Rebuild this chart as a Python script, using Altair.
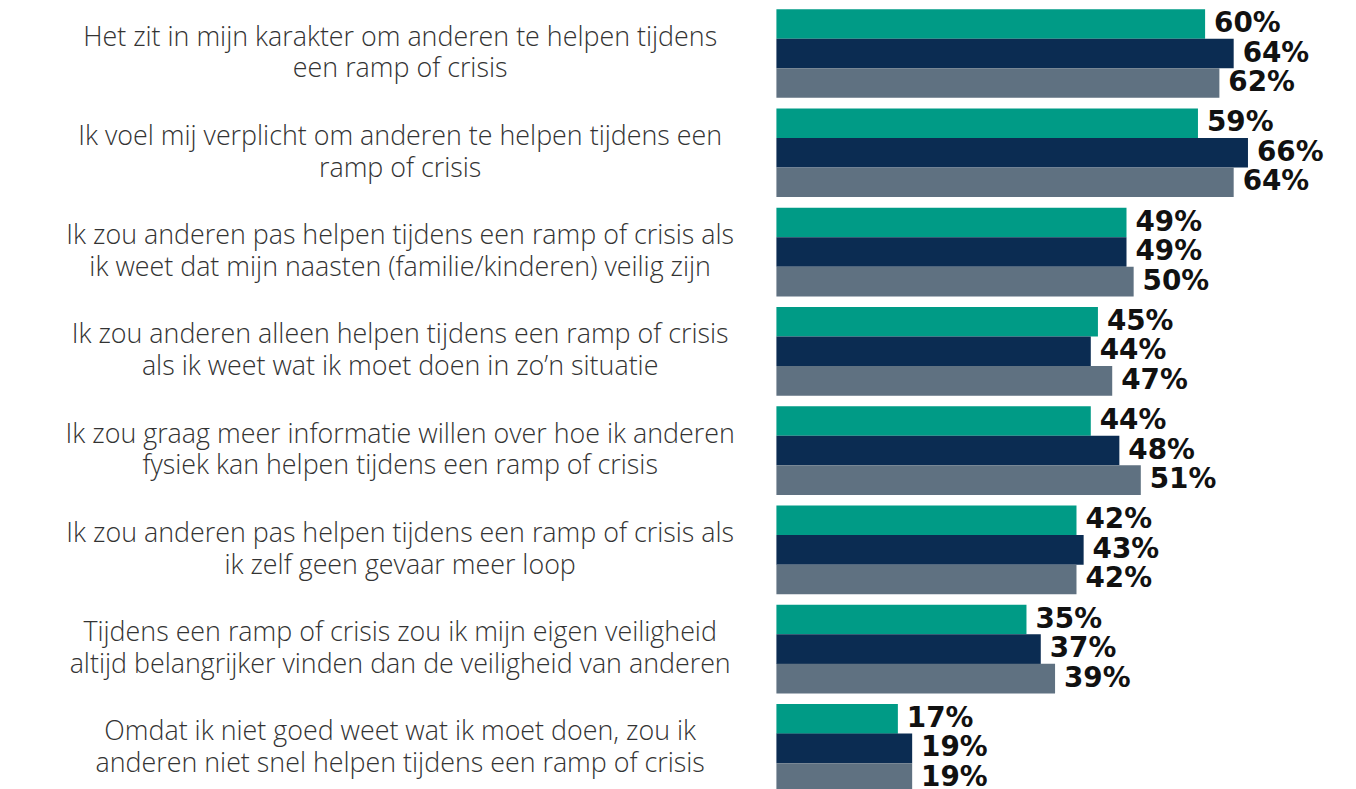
import altair as alt
import pandas as pd

statements = [
    "Het zit in mijn karakter om anderen te helpen tijdens|een ramp of crisis",
    "Ik voel mij verplicht om anderen te helpen tijdens een|ramp of crisis",
    "Ik zou anderen pas helpen tijdens een ramp of crisis als|ik weet dat mijn naasten (familie/kinderen) veilig zijn",
    "Ik zou anderen alleen helpen tijdens een ramp of crisis|als ik weet wat ik moet doen in zo’n situatie",
    "Ik zou graag meer informatie willen over hoe ik anderen|fysiek kan helpen tijdens een ramp of crisis",
    "Ik zou anderen pas helpen tijdens een ramp of crisis als|ik zelf geen gevaar meer loop",
    "Tijdens een ramp of crisis zou ik mijn eigen veiligheid|altijd belangrijker vinden dan de veiligheid van anderen",
    "Omdat ik niet goed weet wat ik moet doen, zou ik|anderen niet snel helpen tijdens een ramp of crisis",
]
series = ["Reeks 1", "Reeks 2", "Reeks 3"]
values_1 = [60, 59, 49, 45, 44, 42, 35, 17]
values_2 = [64, 66, 49, 44, 48, 43, 37, 19]
values_3 = [62, 64, 50, 47, 51, 42, 39, 19]
colors = ["#009B86", "#0B2C52", "#5F7181"]

rows = []
for s, vals in zip(series, [values_1, values_2, values_3]):
    for st, v in zip(statements, vals):
        rows.append({"stelling": st, "reeks": s, "waarde": v})
df = pd.DataFrame(rows)

y_enc = alt.Y(
    "stelling:N",
    sort=statements,
    scale=alt.Scale(paddingInner=0.108, paddingOuter=0, range=[-1, 787]),
    axis=alt.Axis(
        title=None,
        domain=False,
        ticks=False,
        labelExpr="split(datum.label, '|')",
        labelAlign="center",
        labelBaseline="middle",
        labelPadding=379,
        labelOffset=-16,
        labelLimit=1000,
        labelFont="Open Sans",
        labelFontWeight=300,
        labelFontSize=27,
        labelLineHeight=32,
        labelColor="#333333",
    ),
)
yoff = alt.YOffset("reeks:N", sort=series, scale=alt.Scale(paddingInner=0, paddingOuter=0))
x_enc = alt.X("waarde:Q", scale=alt.Scale(domain=[0, 80]), axis=None)

bars = alt.Chart(df).mark_bar(size=29.7).encode(
    x=x_enc,
    y=y_enc,
    yOffset=yoff,
    color=alt.Color("reeks:N", sort=series, scale=alt.Scale(domain=series, range=colors), legend=None),
)

labels = alt.Chart(df).transform_calculate(
    lab="datum.waarde + '%'"
).mark_text(
    align="left", baseline="middle", dx=9, font="DejaVu Sans", fontWeight="bold",
    fontSize=28, color="#111111"
).encode(
    x=x_enc,
    y=alt.Y("stelling:N", sort=statements),
    yOffset=yoff,
    text="lab:N",
)

chart = alt.layer(bars, labels).properties(
    width=575,
    height=781,
    autosize=alt.AutoSizeParams(type="none"),
    padding={"left": 773, "top": 0, "right": 0, "bottom": 0},
).configure_view(stroke=None)

chart.save("out.html", embed_options={"renderer": "svg", "actions": False})
